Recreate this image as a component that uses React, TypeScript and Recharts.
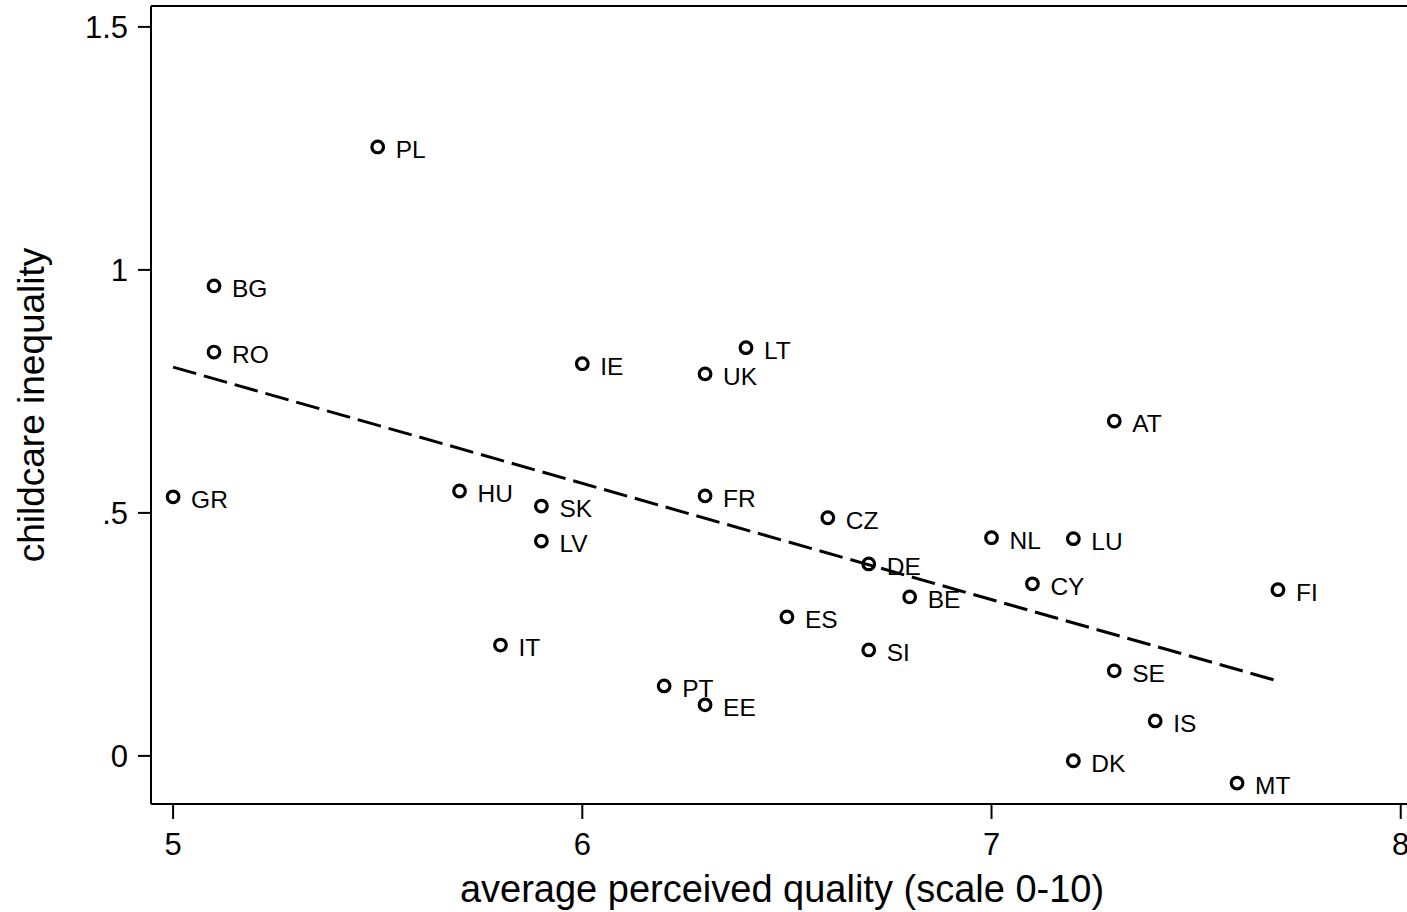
import { ComposedChart, Scatter, Line, XAxis, YAxis, ReferenceLine } from 'recharts';

const FONT = '"Liberation Sans", Arial, Helvetica, sans-serif';

const countries = ['PL', 'BG', 'RO', 'IE', 'LT', 'UK', 'AT', 'GR', 'HU', 'SK', 'LV', 'FR', 'CZ', 'NL', 'LU', 'DE', 'CY', 'FI', 'BE', 'ES', 'IT', 'SI', 'SE', 'PT', 'EE', 'IS', 'DK', 'MT'];
const quality = [5.5, 5.1, 5.1, 6.0, 6.4, 6.3, 7.3, 5.0, 5.7, 5.9, 5.9, 6.3, 6.6, 7.0, 7.2, 6.7, 7.1, 7.7, 6.8, 6.5, 5.8, 6.7, 7.3, 6.2, 6.3, 7.4, 7.2, 7.6];
const inequality = [1.253, 0.967, 0.831, 0.807, 0.84, 0.786, 0.689, 0.533, 0.545, 0.514, 0.442, 0.535, 0.49, 0.449, 0.447, 0.395, 0.354, 0.342, 0.327, 0.286, 0.228, 0.218, 0.175, 0.144, 0.105, 0.072, -0.01, -0.056];

// fitted line endpoints
const fitX = [5.0, 7.7];
const fitY = [0.8, 0.154];

const xTicks = [5, 6, 7, 8];
const yTicks = [0, 0.5, 1, 1.5];
const yTickLabels: Record<string, string> = { '0': '0', '0.5': '.5', '1': '1', '1.5': '1.5' };

const Y_MIN = -0.099;
const Y_MAX = 1.543;

const points = countries.map((c, i) => ({ name: c, x: quality[i], y: inequality[i] }));
const fit = fitX.map((x, i) => ({ x, y: fitY[i] }));

function CountryDot(props: any) {
  const { cx, cy, payload } = props;
  if (cx == null || cy == null) return null;
  return (
    <g>
      <circle cx={cx} cy={cy} r={5.8} fill="none" stroke="#000" strokeWidth={3.2} />
      <text x={cx + 18} y={cy + 11} fontSize={24.5} fontFamily={FONT} fill="#000">
        {payload.name}
      </text>
    </g>
  );
}

function YTitle(props: any) {
  const vb = props.viewBox ?? {};
  const cy = (vb.y ?? 0) + (vb.height ?? 0) / 2;
  return (
    <text x={44} y={cy} transform={`rotate(-90 44 ${cy})`} textAnchor="middle" fontSize={37} fontFamily={FONT} fill="#000">
      childcare inequality
    </text>
  );
}

function XTitle(props: any) {
  const vb = props.viewBox ?? {};
  const cx = (vb.x ?? 0) + (vb.width ?? 0) / 2;
  return (
    <text x={cx} y={902} textAnchor="middle" fontSize={38} fontFamily={FONT} fill="#000">
      average perceived quality (scale 0-10)
    </text>
  );
}

export default function App() {
  return (
    <div style={{ position: 'fixed', left: 0, top: 0, width: 1407, height: 912, overflow: 'hidden', background: '#fff' }}>
      <ComposedChart width={1430} height={912} margin={{ top: 6, right: 17, bottom: 0, left: 0 }}>
        <XAxis
          type="number"
          dataKey="x"
          domain={[4.946, 8.03]}
          ticks={xTicks}
          allowDataOverflow
          height={108}
          stroke="#000"
          strokeWidth={2}
          tickSize={15}
          tickMargin={14}
          tick={{ fill: '#000', fontSize: 31, fontFamily: FONT }}
          label={XTitle}
        />
        <YAxis
          type="number"
          dataKey="y"
          domain={[Y_MIN, Y_MAX]}
          ticks={yTicks}
          allowDataOverflow
          width={151}
          stroke="#000"
          strokeWidth={2}
          tickSize={13}
          tickMargin={10}
          tickFormatter={(v: number) => yTickLabels[String(v)] ?? String(v)}
          tick={{ fill: '#000', fontSize: 31, fontFamily: FONT }}
          label={YTitle}
        />
        <ReferenceLine y={Y_MAX} stroke="#000" strokeWidth={2} />
        <Line
          data={fit}
          dataKey="y"
          stroke="#000"
          strokeWidth={3}
          strokeDasharray="24 8"
          dot={false}
          activeDot={false}
          isAnimationActive={false}
        />
        <Scatter data={points} dataKey="y" shape={CountryDot} isAnimationActive={false} />
      </ComposedChart>
    </div>
  );
}
